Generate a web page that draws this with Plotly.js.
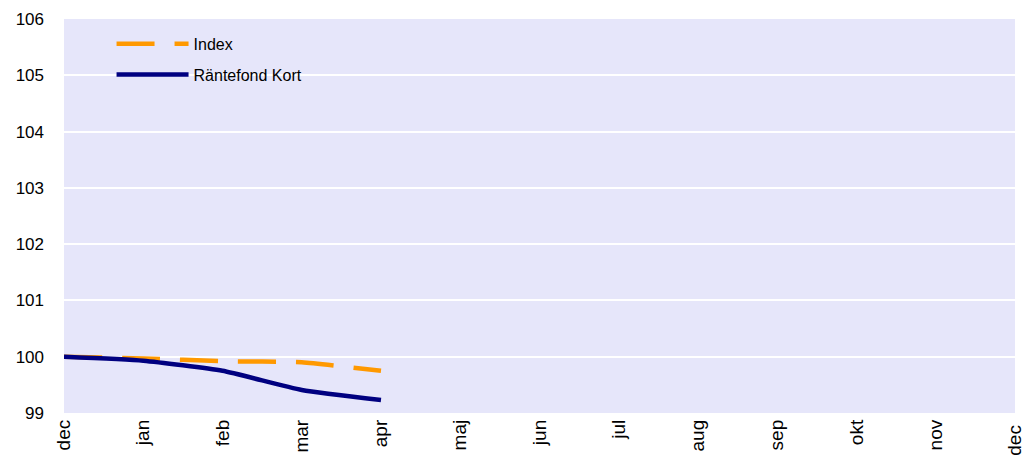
<!DOCTYPE html>
<html>
<head>
<meta charset="utf-8">
<script src="https://cdn.plot.ly/plotly-3.0.1.min.js"></script>
<style>html,body{margin:0;padding:0;background:#fff;}#chart{width:1024px;height:464px;}</style>
</head>
<body>
<div id="chart"></div>
<script>
var months = ["dec","jan","feb","mar","apr","maj","jun","jul","aug","sep","okt","nov","dec "];
var indexVals = [100.00, 99.97, 99.92, 99.90, 99.75];
var fondVals = [100.00, 99.93, 99.75, 99.41, 99.23];
var yTicks = [99,100,101,102,103,104,105,106];

var fnt = "Liberation Sans, Arial, sans-serif";
var traces = [
  {x: months.slice(0, indexVals.length), y: indexVals, name: "Index", type: "scatter", mode: "lines",
   line: {color: "#FF9900", width: 4.5, dash: "38px,20px", shape: "spline", smoothing: 0.5}, legend: "legend"},
  {x: months.slice(0, fondVals.length), y: fondVals, name: "Räntefond Kort", type: "scatter", mode: "lines",
   line: {color: "#000080", width: 4.5, shape: "spline", smoothing: 0.5}, legend: "legend2"}
];
var layout = {
  width: 1024, height: 464,
  margin: {l: 64, r: 9, t: 19, b: 51},
  paper_bgcolor: "#ffffff",
  plot_bgcolor: "#E6E6FA",
  font: {family: fnt, color: "#000"},
  xaxis: {type: "category", categoryarray: months, categoryorder: "array", range: [0, 12],
    tickangle: -90, tickfont: {size: 19, family: fnt}, showgrid: false, zeroline: false,
    showline: false, ticks: "", ticklabelstandoff: 2, automargin: false, fixedrange: true},
  yaxis: {range: [99, 106], tickvals: yTicks, ticktext: yTicks.map(String), tickfont: {size: 17, family: fnt},
    showgrid: true, gridcolor: "#ffffff", gridwidth: 2, zeroline: false, showline: false,
    ticks: "", ticklabelstandoff: 19, automargin: false, fixedrange: true},
  legend: {x: 0.05, y: 0.937, xanchor: "left", yanchor: "middle", bgcolor: "rgba(0,0,0,0)",
    font: {size: 16, family: fnt}, itemwidth: 72},
  legend2: {x: 0.05, y: 0.859, xanchor: "left", yanchor: "middle", bgcolor: "rgba(0,0,0,0)",
    font: {size: 16, family: fnt}, itemwidth: 72},
  showlegend: true
};
Plotly.newPlot("chart", traces, layout, {displayModeBar: false, staticPlot: true});
</script>
</body>
</html>
